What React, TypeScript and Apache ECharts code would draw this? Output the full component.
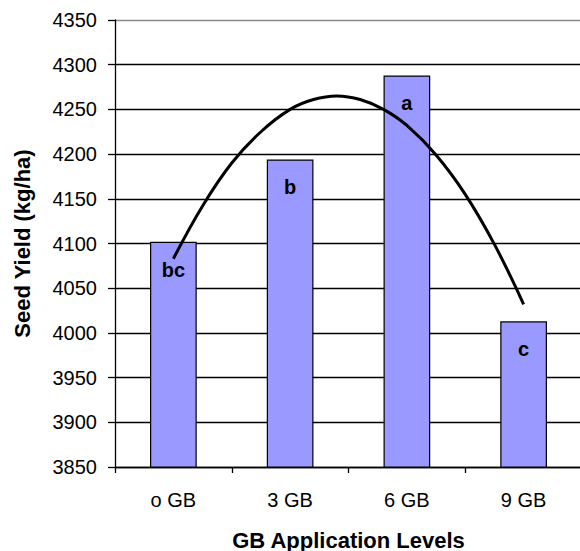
import React, { useEffect, useRef } from "react";
import * as echarts from "echarts";

const categories = ["o GB", "3 GB", "6 GB", "9 GB"];
const yieldValues = [4102, 4194, 4288, 4013];
const letters = ["bc", "b", "a", "c"];
// trend curve (x in category index units)
const trendX = [0, 0.25, 0.5, 0.75, 1, 1.2, 1.4, 1.6, 1.8, 2, 2.25, 2.5, 2.75, 3];
const trendY = [4083, 4142, 4190, 4225, 4250, 4261, 4265, 4261, 4250, 4232, 4199, 4155, 4099, 4032];

const FONT = "'Liberation Sans', Arial, sans-serif";

export default function App() {
  const ref = useRef<HTMLDivElement>(null);
  useEffect(() => {
    if (!ref.current) return;
    const chart = echarts.init(ref.current, undefined, { renderer: "svg" });
    const gridColors = ["#000000", "#000000", "#000000", "#000000", "#000000", "#000000", "#000000", "#000000", "#000000", "#000000", "#888888"];
    chart.setOption({
      animation: false,
      backgroundColor: "#ffffff",
      textStyle: { fontFamily: FONT },
      grid: { left: 115, top: 20, bottom: 84, right: -2, containLabel: false, outerBoundsMode: "none" },
      xAxis: [
        {
          type: "category",
          data: categories,
          boundaryGap: true,
          axisLine: { show: true, onZero: false, lineStyle: { color: "#000", width: 1.3 } },
          axisTick: { show: true, length: 6, lineStyle: { color: "#000", width: 1.3 } },
          axisLabel: { color: "#000", fontSize: 20, fontFamily: FONT, margin: 23 },
          name: "GB Application Levels",
          nameLocation: "middle",
          nameGap: 62,
          nameTextStyle: { color: "#000", fontSize: 22, fontWeight: "bold", fontFamily: FONT },
        },
        {
          type: "value",
          min: -0.5,
          max: 3.5,
          show: false,
        },
      ],
      yAxis: {
        type: "value",
        min: 3850,
        max: 4350,
        interval: 50,
        axisLine: { show: true, onZero: false, lineStyle: { color: "#000", width: 1.3 } },
        axisTick: { show: true, length: 7, lineStyle: { color: "#000", width: 1.3 } },
        axisLabel: {
          color: "#000",
          fontSize: 20,
          fontFamily: FONT,
          margin: 18,
          formatter: (v: number) => String(v),
        },
        splitLine: { show: true, lineStyle: { color: gridColors, width: 1.4, opacity: 1 } },
        name: "Seed Yield (kg/ha)",
        nameLocation: "middle",
        nameGap: 82,
        nameTextStyle: { color: "#000", fontSize: 22, fontWeight: "bold", fontFamily: FONT },
      },
      series: [
        {
          type: "bar",
          xAxisIndex: 0,
          data: yieldValues,
          barWidth: "40%",
          itemStyle: { color: "#9999FF", borderColor: "#000", borderWidth: 1.2 },
          label: {
            show: true,
            position: "insideTop",
            distance: 18,
            formatter: (p: any) => letters[p.dataIndex],
            color: "#000",
            fontSize: 20,
            fontWeight: "bold",
            fontFamily: FONT,
          },
          z: 2,
        },
        {
          type: "line",
          xAxisIndex: 1,
          data: trendX.map((x, i) => [x, trendY[i]]),
          smooth: 0.4,
          showSymbol: false,
          symbol: "none",
          lineStyle: { color: "#000", width: 3 },
          z: 3,
        },
      ],
    });
    return () => chart.dispose();
  }, []);
  return (
    <div
      ref={ref}
      style={{ position: "fixed", left: 0, top: 0, width: 580, height: 551 }}
    />
  );
}
